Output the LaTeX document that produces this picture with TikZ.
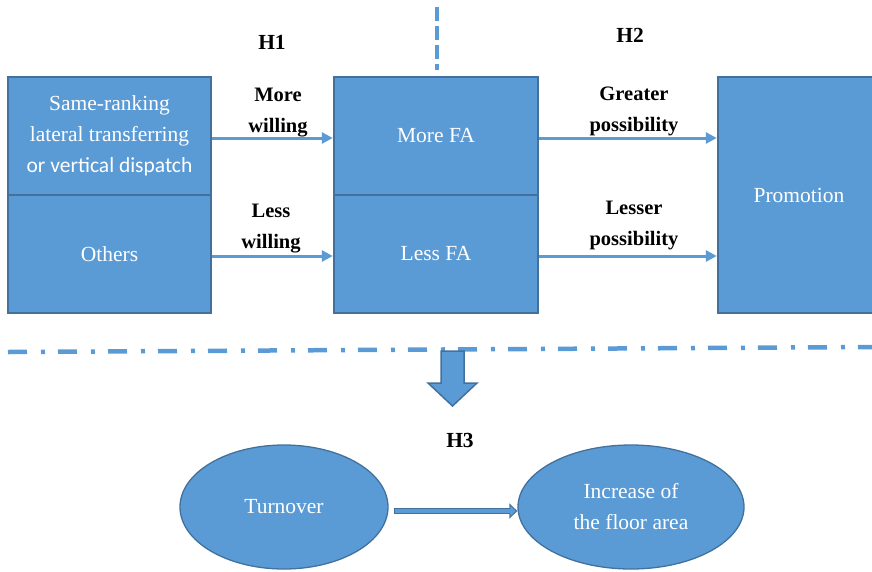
\documentclass[tikz,border=0pt]{standalone}
\usepackage{fontspec}
\setmainfont{Liberation Serif}
\newfontfamily\calib{Carlito}
\usetikzlibrary{arrows.meta,shapes.geometric}
\definecolor{fillb}{HTML}{5B9BD5}
\definecolor{edgeb}{HTML}{41719C}
\begin{document}
\begin{tikzpicture}[x=1pt,y=-1pt,
  boxnode/.style={draw=edgeb, fill=fillb, line width=2.5pt, text=white, align=center,
    inner sep=0pt, font=\fontsize{21.5}{31}\selectfont},
  ellnode/.style={ellipse, draw=edgeb, fill=fillb, line width=1.3pt, text=white, align=center,
    inner sep=0pt, font=\fontsize{21.5}{31}\selectfont},
  lbl/.style={align=center, inner sep=0pt, font=\bfseries\fontsize{20.5}{31}\selectfont},
  hlbl/.style={inner sep=0pt, font=\bfseries\fontsize{21.5}{26}\selectfont},
  conn/.style={draw=fillb, line width=3pt, -{Triangle[length=11pt,width=11pt]}},
  dashv/.style={draw=fillb, line width=4.5pt, dash pattern=on 14pt off 5pt},
  dashdot/.style={draw=fillb, line width=4.5pt, dash pattern=on 19pt off 14pt on 4pt off 13pt}
]
\useasboundingbox (0,0) rectangle (872,571);
\begin{scope}
\clip (0,0) rectangle (872,571);
% boxes
\node[boxnode, minimum width=203pt, minimum height=118pt] (same) at (109.5,136)
  {Same-ranking\\lateral transferring\\{\calib or vertical dispatch}};
\node[boxnode, minimum width=203pt, minimum height=118pt] (others) at (109.5,254) {Others};
\node[boxnode, minimum width=204pt, minimum height=118pt] (morefa) at (436,136) {More FA};
\node[boxnode, minimum width=204pt, minimum height=118pt] (lessfa) at (436,254) {Less FA};
\node[boxnode, minimum width=162pt, minimum height=236pt] (promo) at (799,195) {Promotion};
% ellipses
\node[ellnode, minimum width=208pt, minimum height=124pt] (turn) at (284,507) {Turnover};
\node[ellnode, minimum width=226pt, minimum height=124pt] (inc) at (631,507) {Increase of\\the floor area};
% connectors
\draw[conn] ([yshift=-2pt]same.east) -- ([yshift=-2pt]morefa.west);
\draw[conn] ([yshift=-2pt]others.east) -- ([yshift=-2pt]lessfa.west);
\draw[conn] ([yshift=-2pt]morefa.east) -- ([yshift=-2pt]promo.west |- morefa.east);
\draw[conn] ([yshift=-2pt]lessfa.east) -- ([yshift=-2pt]promo.west |- lessfa.east);
\draw[edgeb, line width=6.5pt, -{Triangle[length=8pt,width=15pt]}]
  ([xshift=5pt,yshift=-4pt]turn.east) -- ([yshift=-4pt]inc.west);
\draw[fillb, line width=3.5pt, shorten <=1.5pt, shorten >=1.6pt, -{Triangle[length=5.5pt,width=10pt]}]
  ([xshift=5pt,yshift=-4pt]turn.east) -- ([yshift=-4pt]inc.west);
% labels
\node[hlbl] (h1) at (272,42) {H1};
\node[hlbl] (h2) at (630,35) {H2};
\node[hlbl] (h3) at (460,440) {H3};
\node[lbl] (mw) at (278,113) {More\\willing};
\node[lbl] (lw) at (271,229) {Less\\willing};
\node[lbl] (gp) at (634,111) {Greater\\possibility};
\node[lbl] (lp) at (634,225) {Lesser\\possibility};
% separators
\coordinate (vt) at (437,7);
\coordinate (vb) at (437,70);
\draw[dashv] (vt) -- (vb);
\coordinate (dl) at (8,352);
\coordinate (dr) at (876,347);
\draw[dashdot] (dl) -- (dr);
% block arrow down
\draw[draw=edgeb, fill=fillb, line width=1.5pt]
  (441,351) -- (464,351) -- (464,383) -- (477,383) -- (452.5,406) -- (428,383) -- (441,383) -- cycle;
\end{scope}
\end{tikzpicture}
\end{document}
